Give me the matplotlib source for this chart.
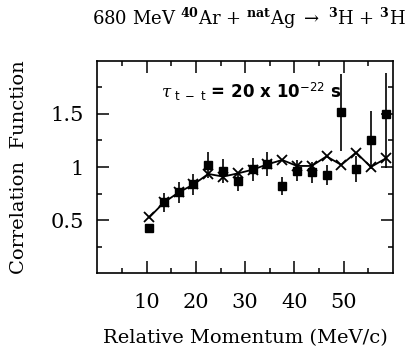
import numpy as np
import matplotlib
matplotlib.use("Agg")
import matplotlib.pyplot as plt
from matplotlib.ticker import FixedLocator

plt.rcParams["mathtext.fontset"] = "dejavuserif"

# relative momentum bins (MeV/c)
q = [10.5, 13.5, 16.5, 19.5, 22.5, 25.5, 28.5, 31.5, 34.5,
     37.5, 40.5, 43.5, 46.5, 49.5, 52.5, 55.5, 58.5]
# measured correlation function (squares)
c_data = [0.43, 0.667, 0.762, 0.836, 1.02, 0.964, 0.866, 0.978, 1.027,
          0.823, 0.967, 0.95, 0.928, 1.513, 0.98, 1.253, 1.494]
err_lo = [0.03, 0.09, 0.10, 0.10, 0.12, 0.11, 0.09, 0.11, 0.11,
          0.085, 0.10, 0.10, 0.095, 0.36, 0.12, 0.27, 0.50]
err_hi = [0.03, 0.09, 0.10, 0.10, 0.12, 0.11, 0.09, 0.11, 0.11,
          0.085, 0.10, 0.10, 0.095, 0.36, 0.12, 0.27, 0.39]
# model calculation (crosses)
c_model = [0.526, 0.667, 0.762, 0.836, 0.935, 0.91, 0.94, 0.975, 1.025,
           1.066, 1.01, 1.01, 1.10, 1.02, 1.136, 1.0, 1.08]

xticks = [10, 20, 30, 40, 50]
yticks = [0.5, 1, 1.5]
ytick_labels = ["0.5", "1", "1.5"]

serif = "DejaVu Serif"

fig = plt.figure(figsize=(4.06, 3.51), dpi=100)
ax = fig.add_axes([0.240, 0.2208, 0.728, 0.6068])

ax.plot(q, c_model, color="black", linewidth=1.3, marker="x",
        markersize=7, markeredgewidth=1.3, zorder=3)
ax.errorbar(q, c_data, yerr=[err_lo, err_hi], fmt="s", color="black",
            markersize=6, elinewidth=1.2, capsize=0, zorder=4)

ax.set_xlim(0, 60)
ax.set_ylim(0, 2)
ax.set_xticks(xticks)
ax.set_yticks(yticks)
ax.set_yticklabels(ytick_labels)
ax.xaxis.set_minor_locator(FixedLocator([5, 15, 25, 35, 45, 55]))
ax.yaxis.set_minor_locator(FixedLocator([0.25, 0.75, 1.25, 1.75]))
ax.tick_params(which="both", direction="in", top=True, right=True, width=1.1)
ax.tick_params(which="major", length=8.5, pad=10)
ax.tick_params(which="minor", length=3.6)
ax.tick_params(axis="x", which="major", pad=14)
for lab in ax.get_xticklabels() + ax.get_yticklabels():
    lab.set_family(serif)
    lab.set_fontsize(15)
for s in ax.spines.values():
    s.set_linewidth(1.2)

ax.set_xlabel("Relative Momentum (MeV/c)", family=serif, fontsize=14, labelpad=12)
ax.set_ylabel("Correlation  Function", family=serif, fontsize=14, labelpad=16)

fig.text(0.612, 0.948,
         r"680 MeV $^{\mathbf{40}}$Ar + $^{\mathbf{nat}}$Ag $\rightarrow$ $^{\mathbf{3}}$H + $^{\mathbf{3}}$H",
         family=serif, fontsize=13, ha="center", va="center")

ax.text(0.215, 0.852,
        r"$\tau$$_{\ \mathsf{t\ -\ t}}$ = 20 x 10$^{\mathsf{-22}}$ s",
        transform=ax.transAxes, fontsize=12, fontweight="bold", ha="left", va="center")

fig.savefig("out.png", dpi=100)
